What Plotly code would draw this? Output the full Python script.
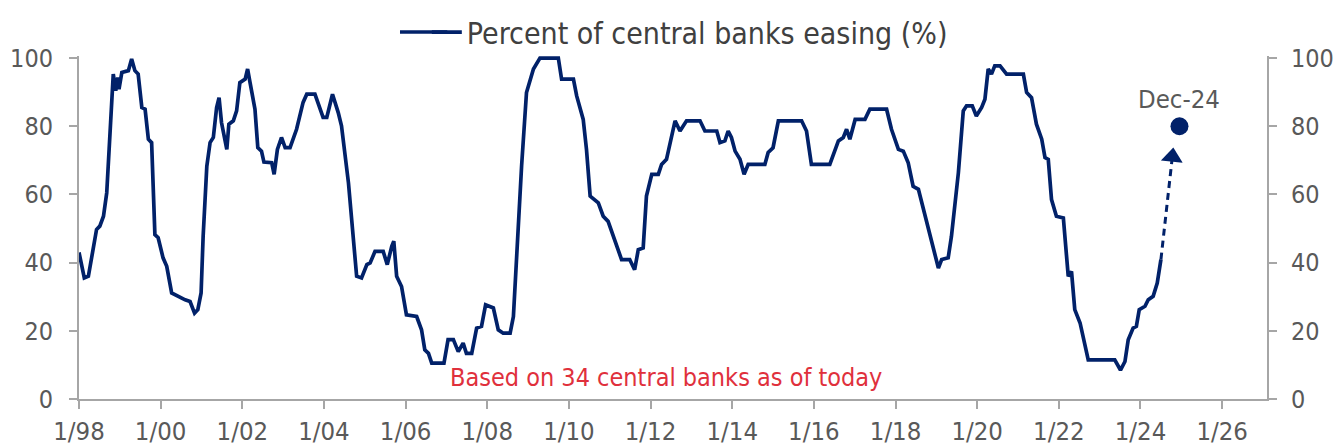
import datetime as dt
import plotly.graph_objects as go

# ---- data ----
# decimal-year dates of the line's vertices and the percent of central banks easing
date_years = [
    1998.00, 1998.13, 1998.23, 1998.31, 1998.43, 1998.51, 1998.60, 1998.68, 1998.76, 1998.84,
    1998.90, 1998.95, 1998.98, 1999.05, 1999.21, 1999.29, 1999.37, 1999.45, 1999.54, 1999.62,
    1999.70, 1999.78, 1999.86, 1999.94, 2000.06, 2000.15, 2000.27, 2000.43, 2000.60, 2000.72,
    2000.83, 2000.91, 2000.99, 2001.04, 2001.13, 2001.21, 2001.29, 2001.37, 2001.43, 2001.49,
    2001.62, 2001.67, 2001.78, 2001.86, 2001.94, 2002.07, 2002.13, 2002.19, 2002.31, 2002.38,
    2002.47, 2002.53, 2002.72, 2002.78, 2002.86, 2002.96, 2003.05, 2003.17, 2003.33, 2003.49,
    2003.58, 2003.78, 2003.90, 2003.98, 2004.07, 2004.21, 2004.35, 2004.43, 2004.60, 2004.72,
    2004.80, 2004.92, 2005.05, 2005.13, 2005.25, 2005.45, 2005.55, 2005.66, 2005.71, 2005.78,
    2005.90, 2006.02, 2006.27, 2006.39, 2006.47, 2006.56, 2006.64, 2006.94, 2007.04, 2007.17,
    2007.29, 2007.41, 2007.49, 2007.62, 2007.74, 2007.86, 2007.96, 2008.15, 2008.27, 2008.39,
    2008.56, 2008.64, 2008.72, 2008.84, 2008.96, 2009.13, 2009.29, 2009.74, 2009.82, 2010.11,
    2010.19, 2010.35, 2010.43, 2010.52, 2010.72, 2010.84, 2010.96, 2011.09, 2011.17, 2011.29,
    2011.49, 2011.61, 2011.70, 2011.82, 2011.90, 2012.03, 2012.19, 2012.27, 2012.39, 2012.47,
    2012.60, 2012.72, 2012.88, 2013.21, 2013.33, 2013.62, 2013.70, 2013.82, 2013.90, 2013.98,
    2014.07, 2014.19, 2014.29, 2014.39, 2014.80, 2014.88, 2015.00, 2015.13, 2015.70, 2015.82,
    2015.94, 2016.39, 2016.60, 2016.72, 2016.80, 2016.88, 2017.01, 2017.25, 2017.37, 2017.78,
    2017.90, 2018.07, 2018.19, 2018.31, 2018.43, 2018.56, 2018.68, 2018.84, 2018.97, 2019.05,
    2019.13, 2019.29, 2019.37, 2019.54, 2019.66, 2019.74, 2019.88, 2019.98, 2020.11, 2020.19,
    2020.27, 2020.35, 2020.43, 2020.56, 2020.72, 2021.13, 2021.21, 2021.33, 2021.45, 2021.58,
    2021.66, 2021.74, 2021.82, 2021.94, 2022.11, 2022.19, 2022.23, 2022.31, 2022.39, 2022.52,
    2022.64, 2022.72, 2023.37, 2023.45, 2023.51, 2023.62, 2023.70, 2023.82, 2023.90, 2023.97,
    2024.11, 2024.19, 2024.31, 2024.41, 2024.50,
]
easing_pct = [
    43.0, 35.5, 36.0, 42.0, 49.7, 50.7, 53.6, 60.5, 78.0, 95.3,
    90.4, 94.3, 90.9, 95.8, 96.3, 99.7, 96.3, 95.3, 85.5, 85.0,
    76.2, 75.2, 48.2, 47.3, 41.4, 38.9, 31.1, 30.1, 29.1, 28.6,
    25.2, 26.2, 31.1, 47.7, 68.3, 75.2, 76.7, 85.5, 88.4, 81.1,
    73.2, 80.6, 81.6, 84.5, 92.8, 93.8, 96.8, 92.8, 85.0, 73.7,
    72.7, 69.5, 69.3, 65.9, 73.2, 76.7, 73.7, 73.7, 79.1, 87.0,
    89.4, 89.4, 85.0, 82.6, 82.6, 89.4, 84.0, 80.1, 63.4, 47.7,
    36.0, 35.5, 39.4, 39.9, 43.3, 43.3, 39.4, 44.8, 46.3, 36.0,
    33.0, 24.7, 24.2, 20.3, 14.4, 13.4, 10.5, 10.5, 17.4, 17.4,
    13.9, 16.4, 13.4, 13.4, 20.8, 21.3, 27.6, 26.7, 20.3, 19.3,
    19.3, 24.2, 43.8, 68.3, 89.9, 96.8, 100.0, 100.0, 93.8, 93.8,
    88.9, 82.0, 73.2, 59.5, 57.5, 53.6, 52.1, 47.7, 44.8, 40.9,
    40.9, 37.9, 43.8, 44.3, 59.5, 65.9, 65.9, 68.8, 70.3, 74.2,
    81.6, 78.6, 81.6, 81.6, 78.6, 78.6, 75.2, 75.7, 78.6, 76.7,
    72.7, 70.3, 65.9, 68.8, 68.8, 72.3, 73.7, 81.6, 81.6, 78.6,
    68.8, 68.8, 75.7, 76.7, 79.1, 76.2, 82.0, 82.0, 85.0, 85.0,
    79.1, 73.2, 72.7, 69.3, 62.4, 61.5, 55.6, 47.7, 41.9, 38.4,
    40.9, 41.4, 47.7, 66.4, 84.5, 86.0, 86.0, 83.0, 85.5, 87.9,
    96.8, 95.3, 97.7, 97.7, 95.3, 95.3, 89.9, 88.4, 80.6, 76.2,
    70.8, 70.3, 58.5, 53.6, 53.1, 39.9, 36.0, 37.4, 26.2, 22.3,
    16.4, 11.5, 11.5, 10.0, 8.5, 11.0, 17.4, 20.8, 21.3, 26.2,
    27.2, 29.1, 30.1, 34.0, 40.9,
]

forecast_label = "Dec-24"
forecast_date = "2024-12-15"
forecast_value = 80
arrow_tip_date = "2024-10-12"
arrow_tip_value = 71.0

series_name = "Percent of central banks easing (%)"
note_text = "Based on 34 central banks as of today"

x_start = "1998-01-01"
x_end = "2027-02-06"
y_ticks = [0, 20, 40, 60, 80, 100]


def to_date(y):
    yr = int(y)
    start = dt.datetime(yr, 1, 1)
    days = (dt.datetime(yr + 1, 1, 1) - start).days
    return start + dt.timedelta(days=(y - yr) * days)


dates = [to_date(v) for v in date_years]

NAVY = "#012169"
GREY_TXT = "#595959"
AX = "#a6a6a6"
RED = "#e0303c"
FONT = "Liberation Sans Narrow, DejaVu Sans Condensed, Arial Narrow, sans-serif"

fig = go.Figure()
fig.add_trace(go.Scatter(
    x=dates, y=easing_pct, mode="lines", name=series_name,
    line=dict(color=NAVY, width=3.7), showlegend=True,
))
# dashed projection arrow
fig.add_trace(go.Scatter(
    x=[dates[-1], arrow_tip_date], y=[easing_pct[-1], arrow_tip_value],
    mode="lines+markers",
    line=dict(color=NAVY, width=3, dash="7px,5px"),
    marker=dict(symbol="triangle-up", size=[0, 19], angle=6, color=NAVY,
                opacity=1, line=dict(width=0)),
    showlegend=False, cliponaxis=False,
))
# Dec-24 point
fig.add_trace(go.Scatter(
    x=[forecast_date], y=[forecast_value], mode="markers",
    marker=dict(size=18, color=NAVY), yaxis="y2", showlegend=False,
    cliponaxis=False,
))

fig.add_annotation(x=forecast_date, y=forecast_value, yref="y2", text=forecast_label,
                   showarrow=False, yanchor="bottom", yshift=10,
                   font=dict(family=FONT, size=25.5, color=GREY_TXT))
fig.add_annotation(x=0.4937, y=0.064, xref="paper", yref="paper", text=note_text,
                   showarrow=False, xanchor="center", yanchor="middle",
                   font=dict(family=FONT, size=25, color=RED))

# longer legend sample line (the legend's own symbol is short)
fig.add_shape(type="line", xref="paper", yref="paper",
              x0=0.2702, x1=0.31, y0=1.07, y1=1.07,
              line=dict(color=NAVY, width=3.5))

axis_common = dict(showgrid=False, zeroline=False, showline=True, linecolor=AX, linewidth=2,
                   ticks="outside", ticklen=8, tickwidth=2, tickcolor=AX)
tick_font = dict(family=FONT, size=25, color=GREY_TXT)

fig.update_layout(
    width=1338, height=446,
    margin=dict(l=79, r=71, t=56, b=47, autoexpand=False),
    paper_bgcolor="white", plot_bgcolor="white",
    font=dict(family=FONT, color=GREY_TXT),
    xaxis=dict(type="date", range=[x_start, x_end], tick0=x_start, dtick="M24",
               tickformat="%-m/%y", ticklabelstandoff=0,
               tickfont=dict(family=FONT, size=25.5, color=GREY_TXT), **axis_common),
    yaxis=dict(range=[0, 100.6], tickvals=y_ticks, ticklabelstandoff=11,
               tickfont=tick_font, **axis_common),
    yaxis2=dict(range=[0, 100.6], tickvals=y_ticks, overlaying="y", side="right",
                ticklabelstandoff=9, tickfont=tick_font, **axis_common),
    legend=dict(orientation="h", xref="container", yref="container",
                x=0.319, y=0.928, xanchor="left", yanchor="middle",
                font=dict(family=FONT, size=30, color="#404040"),
                bgcolor="rgba(0,0,0,0)"),
)

fig.write_html("out.html")
